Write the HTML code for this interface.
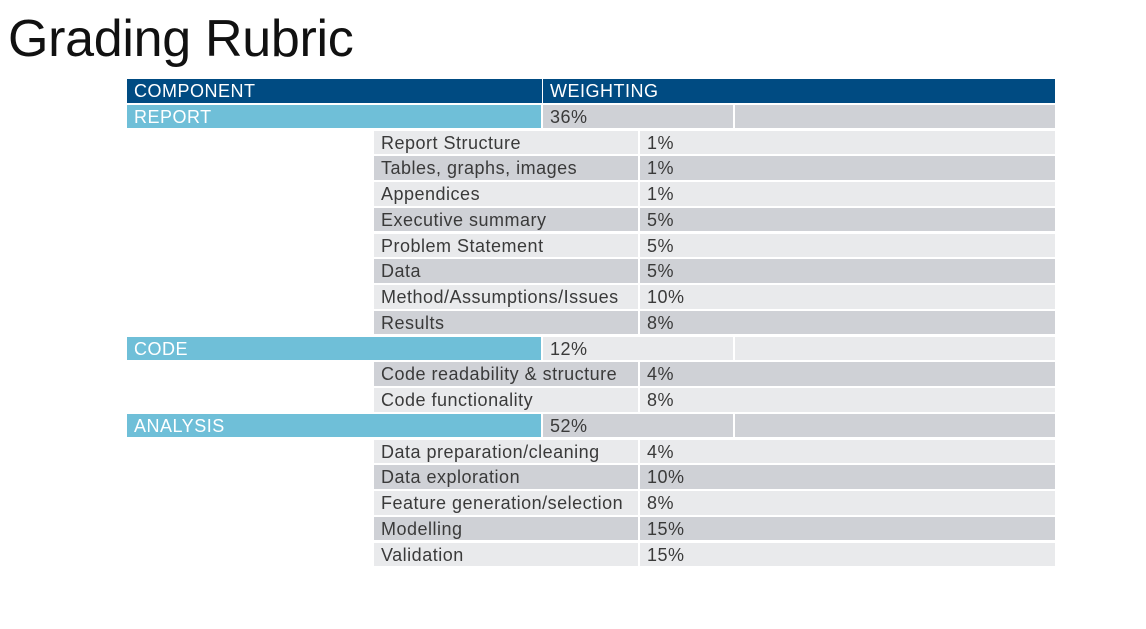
<!DOCTYPE html>
<html><head><meta charset="utf-8"><style>
body{margin:0;width:1146px;height:629px;background:#fff;position:relative;overflow:hidden;font-family:"Liberation Sans",sans-serif;}
.c{position:absolute;box-sizing:border-box;padding-left:7px;font-size:18px;letter-spacing:0.5px;line-height:24px;color:#3a3a3a;white-space:nowrap;overflow:hidden;}
h1{position:absolute;left:8px;top:9px;margin:0;font-weight:normal;font-size:52px;color:#111;letter-spacing:-0.3px;}
</style></head><body>
<h1>Grading Rubric</h1>
<div id="t"></div>
<script>
const components=["REPORT","CODE","ANALYSIS"];
const componentWeights=["36%","12%","52%"];
const itemLabels=[["Report Structure","Tables, graphs, images","Appendices","Executive summary","Problem Statement","Data","Method/Assumptions/Issues","Results"],["Code readability & structure","Code functionality"],["Data preparation/cleaning","Data exploration","Feature generation/selection","Modelling","Validation"]];
const itemWeights=[["1%","1%","1%","5%","5%","5%","10%","8%"],["4%","8%"],["4%","10%","8%","15%","15%"]];
const t=document.getElementById('t');
const top0=79,pitch=25.75,h=23.5;
function cell(x,y,w,bg,txt,col,name){const d=document.createElement('div');d.className='c';d.style.left=x+'px';d.style.top=y+'px';d.style.width=w+'px';d.style.height=h+'px';d.style.background=bg;d.style.color=col||'#3a3a3a';d.textContent=txt;


t.appendChild(d);}
cell(127,top0,415,'#004b82','COMPONENT','#fff','header-component');
cell(543,top0,512,'#004b82','WEIGHTING','#fff','header-weighting');
let r=1;
components.forEach((c,i)=>{
 const y=top0+r*pitch, bg=(r%2)?'#cfd1d6':'#e9eaec';
 cell(127,y,414,'#6fbfd8',c,'#fff','component-'+c.toLowerCase());
 cell(543,y,190,bg,componentWeights[i],null,'component-weight');
 cell(735,y,320,bg,'',null,'component-blank');
 r++;
 itemLabels[i].forEach((l,j)=>{
  const y2=top0+r*pitch, bg2=(r%2)?'#cfd1d6':'#e9eaec';
  cell(374,y2,264,bg2,l,null,'item-label');
  cell(640,y2,415,bg2,itemWeights[i][j],null,'item-weight');
  r++;
 });
});
</script>
</body></html>
